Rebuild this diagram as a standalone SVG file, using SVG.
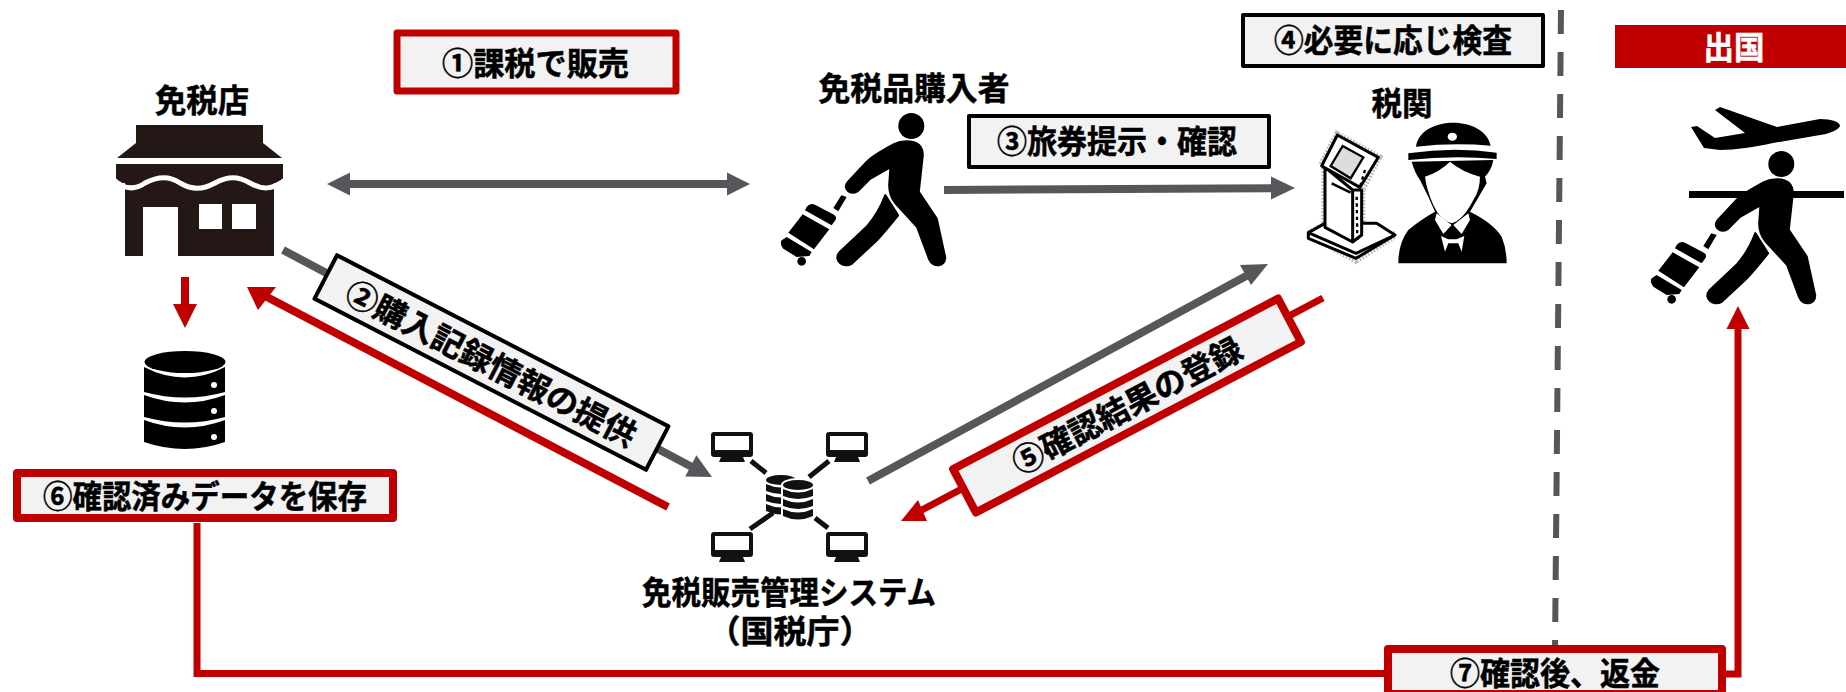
<svg xmlns="http://www.w3.org/2000/svg" width="1846" height="692" viewBox="0 0 1846 692">
<style>
text{font-family:"Noto Sans CJK JP","Noto Sans",sans-serif;font-weight:700;font-size:32px;fill:#000;stroke:#000;stroke-width:.5px;text-anchor:middle}
.red{fill:#f2f2f2;stroke:#c00000;stroke-width:8;stroke-linejoin:round}
.blk{fill:#f2f2f2;stroke:#000;stroke-width:4;stroke-linejoin:round}
.g{fill:none;stroke:#58565a;stroke-width:8}
.r{fill:none;stroke:#c00000;stroke-width:7}
.ki{fill:#fff;stroke:#000;stroke-width:9;stroke-linejoin:round}
.pb{stroke:#000;stroke-width:7;stroke-linejoin:round}
</style>
<defs>
<g id="person">
<circle cx="784" cy="492" r="39"/>
<path class="pb" d="M770,538C800,538 818,552 818,580L806,690L860,770L885,885C888,912 850,920 838,892L802,795L735,722C722,705 718,690 718,670L722,615L660,650L622,688C600,700 578,680 594,660L650,600C670,580 700,565 730,548Q750,538 770,538Z"/>
<path class="pb" d="M706,700L744,760C720,790 700,815 680,835L605,905C580,920 550,895 568,872L650,795C680,760 695,730 706,700Z"/>
<path d="M590,705L574,700L550,738L565,748Z"/>
<path d="M470,735Q480,722 495,728L552,758Q562,765 556,775L545,790L465,745Z"/>
<path d="M458,757L538,802L492,862L415,812Z"/>
<path d="M410,825L485,870L478,882L440,885L400,860Q388,845 395,835Z"/>
<circle cx="455" cy="898" r="13"/>
</g>
<g id="mon"><rect x="0" y="0" width="42" height="25" rx="3" fill="#111"/><rect x="4" y="4" width="34" height="14" fill="#fff"/><path d="M10,25H32L34,30H8Z" fill="#111"/></g>
<g id="cyl">
<ellipse cx="0" cy="0" rx="15" ry="5" fill="#111"/>
<path d="M-15,4Q0,11 15,4V11Q0,17 -15,11ZM-15,14Q0,21 15,14V21Q0,27 -15,21ZM-15,24Q0,31 15,24V31Q0,38 -15,31Z" fill="#111"/>
</g>
</defs>

<g id="connectors">
<path class="g" d="M1561,10L1555,650" style="stroke-width:6;stroke-dasharray:24 18"/>
<path class="g" d="M348,184H729"/>
<path d="M327,184L350,172.500V195.500ZM750,184L727,172.500V195.500Z" fill="#58565a"/>
<path class="g" d="M944,190L1273,188.200"/>
<path d="M1295,188L1271,176.500V199.500Z" fill="#58565a"/>
<path class="g" d="M283,250L692,467"/>
<path d="M712,477L696.400,455.200L685.200,476.400Z" fill="#58565a"/>
<path class="r" d="M668,507L265,296" style="stroke-width:8"/>
<path d="M247,287L276,287L258,310Z" fill="#c00000"/>
<path class="g" d="M868,481L1248,275"/>
<path d="M1268,264L1240,265L1251,285Z" fill="#58565a"/>
<path class="r" d="M1323,298L918,512"/>
<path d="M901,521L918,500L927,521Z" fill="#c00000"/>
<path class="r" d="M185,277V306" style="stroke-width:8"/>
<path d="M173,304H197L185,328Z" fill="#c00000"/>
<path class="r" d="M197,523V673.500H1390M1724,674H1738V327"/>
<path d="M1738,306L1749.500,329H1726.500Z" fill="#c00000"/>
</g>

<g id="store">
<path d="M136,125H263V143L282,158H117L136,143Z" fill="#231815"/>
<rect x="116" y="164" width="167" height="20" fill="#231815"/>
<path d="M125,184H274V256H178V207H143V256H125Z" fill="#231815"/>
<path d="M116,183h9v6h-9ZM274,183h9v6h-9Z" fill="#fff"/>
<path d="M114,180C125,190 135,190 145,183C158,176 170,176 180,183C192,190 202,190 215,183C228,176 238,176 250,183C262,190 272,190 285,180" fill="none" stroke="#fff" stroke-width="5"/>
<rect x="199" y="204" width="23" height="25" fill="#fff"/>
<rect x="232" y="204" width="24" height="25" fill="#fff"/>
<text x="202" y="112" textLength="94" lengthAdjust="spacingAndGlyphs">免税店</text>
</g>

<g id="database">
<ellipse cx="185" cy="362" rx="40.500" ry="11"/>
<path d="M144,367Q185,388 225,367V392Q185,403 144,392Z"/>
<path d="M144,395Q185,410 225,395V417Q185,428 144,417Z"/>
<path d="M144,420Q185,435 225,420V442Q185,456 144,442Z"/>
<circle cx="214" cy="385" r="3" fill="#fff"/><circle cx="214" cy="411" r="3" fill="#fff"/><circle cx="214" cy="437" r="3" fill="#fff"/>
</g>

<g id="buyer">
<g transform="translate(650,-38) scale(.3333)"><use href="#person"/></g>
<text x="914" y="100" textLength="191" lengthAdjust="spacingAndGlyphs">免税品購入者</text>
</g>

<g id="customs">
<text x="1402" y="115" textLength="61" lengthAdjust="spacingAndGlyphs">税関</text>
<g transform="translate(1280,80) scale(.3333)">
<g id="kiosk">
<path d="M172,165L295,232L245,330V465L345,465L228,540L85,462L135,435V262L125,255Z" fill="none" stroke="#bbb" stroke-width="22" stroke-dasharray="5 5"/>
<path class="ki" d="M85,458L135,430L290,430L345,465L228,535L85,475Z"/>
<path class="ki" d="M85,458L228,520L345,465"/>
<path class="ki" d="M135,262V442L218,486V330ZM218,486L245,465V330L218,330Z"/>
<path class="ki" d="M172,165L295,232L240,322L125,258Z"/>
<path d="M188,198L250,232L212,295L152,258Z" fill="#ddd" stroke="#000" stroke-width="7"/>
<path d="M155,310L212,338" stroke="#000" stroke-width="8"/>
<path d="M230,350L232,480M255,270L240,320" stroke="#000" stroke-width="7" stroke-dasharray="10 10"/>
</g>
<g id="officer">
<path d="M408,200C415,150 470,128 520,128C575,128 625,155 632,197Q520,188 408,200Z"/>
<ellipse cx="517" cy="170" rx="14" ry="12" fill="#fff"/>
<path d="M385,220Q520,200 650,218V237Q520,225 385,240Z"/>
<path d="M395,245L640,240Q635,270 615,290L620,310L585,370L570,395Q640,430 665,470Q680,505 680,550H355Q355,490 385,450Q420,420 465,395L445,350L420,300Q405,280 395,245Z"/>
<path d="M435,290Q480,275 510,245Q545,275 600,290Q600,330 580,360Q550,420 515,430Q480,420 460,375Q440,330 435,290Z" fill="#fff"/>
<path d="M470,400L515,435L490,462L465,420ZM565,400L520,435L545,462L570,420Z" fill="#fff"/>
<path d="M483,468L505,478H530L553,468L545,515L535,490H505L495,515Z" fill="#fff"/>
</g>
</g>
</g>

<g id="departure">
<rect x="1615" y="25" width="231" height="43" fill="#c00000"/>
<text x="1734" y="59" textLength="61" lengthAdjust="spacingAndGlyphs" style="fill:#fff;stroke:#fff">出国</text>
<path d="M1691,127L1697,126L1715,138L1745,133L1715,110L1720,107L1777,127L1820,119C1832,119 1840,122 1840,126C1838,130 1832,132 1826,134L1773,143C1755,147 1735,150 1720,150L1704,148Z"/>
<rect x="1689" y="191" width="155" height="7"/>
<g transform="translate(1520,0) scale(.3333)"><use href="#person"/></g>
</g>

<g id="system">
<path d="M751,461L766,473M829,461L809,477M773,513L750,529M815,518L828,528" stroke="#111" stroke-width="5"/>
<use href="#mon" x="711" y="432"/><use href="#mon" x="826" y="432"/><use href="#mon" x="711" y="532"/><use href="#mon" x="826" y="532"/>
<use href="#cyl" x="781" y="480"/>
<ellipse cx="798" cy="485" rx="17" ry="7" fill="#fff"/>
<rect x="781" y="485" width="34" height="30" fill="#fff"/>
<use href="#cyl" x="798" y="485"/>
<text x="789" y="604" textLength="294" lengthAdjust="spacingAndGlyphs">免税販売管理システム</text>
<text x="790" y="643" textLength="165" lengthAdjust="spacingAndGlyphs">（国税庁）</text>
</g>

<g id="step1"><rect class="red" x="397" y="33" width="279" height="58" style="stroke-width:7"/><text x="535.500" y="75" textLength="187" lengthAdjust="spacingAndGlyphs">①課税で販売</text></g>
<g id="step2"><g transform="translate(491.500,362.500) rotate(27.300)"><rect class="blk" x="-186.500" y="-24.500" width="373" height="49"/><text x="0" y="13" textLength="322" lengthAdjust="spacingAndGlyphs">②購入記録情報の提供</text></g></g>
<g id="step3"><rect class="blk" x="969" y="116" width="300" height="51"/><text x="1117" y="153" textLength="240" lengthAdjust="spacingAndGlyphs">③旅券提示・確認</text></g>
<g id="step4"><rect class="blk" x="1243" y="15" width="300" height="51"/><text x="1393" y="52" textLength="238" lengthAdjust="spacingAndGlyphs">④必要に応じ検査</text></g>
<g id="step5"><g transform="translate(1127,405.500) rotate(-27.700)"><rect class="red" x="-183.500" y="-24.500" width="367" height="49"/><text x="0" y="12" textLength="255" lengthAdjust="spacingAndGlyphs">⑤確認結果の登録</text></g></g>
<g id="step6"><rect class="red" x="17" y="473" width="376" height="45"/><text x="205" y="508" textLength="324" lengthAdjust="spacingAndGlyphs">⑥確認済みデータを保存</text></g>
<g id="step7"><rect class="red" x="1388" y="649" width="334" height="45"/><text x="1555" y="685" textLength="210" lengthAdjust="spacingAndGlyphs">⑦確認後、返金</text></g>
</svg>
